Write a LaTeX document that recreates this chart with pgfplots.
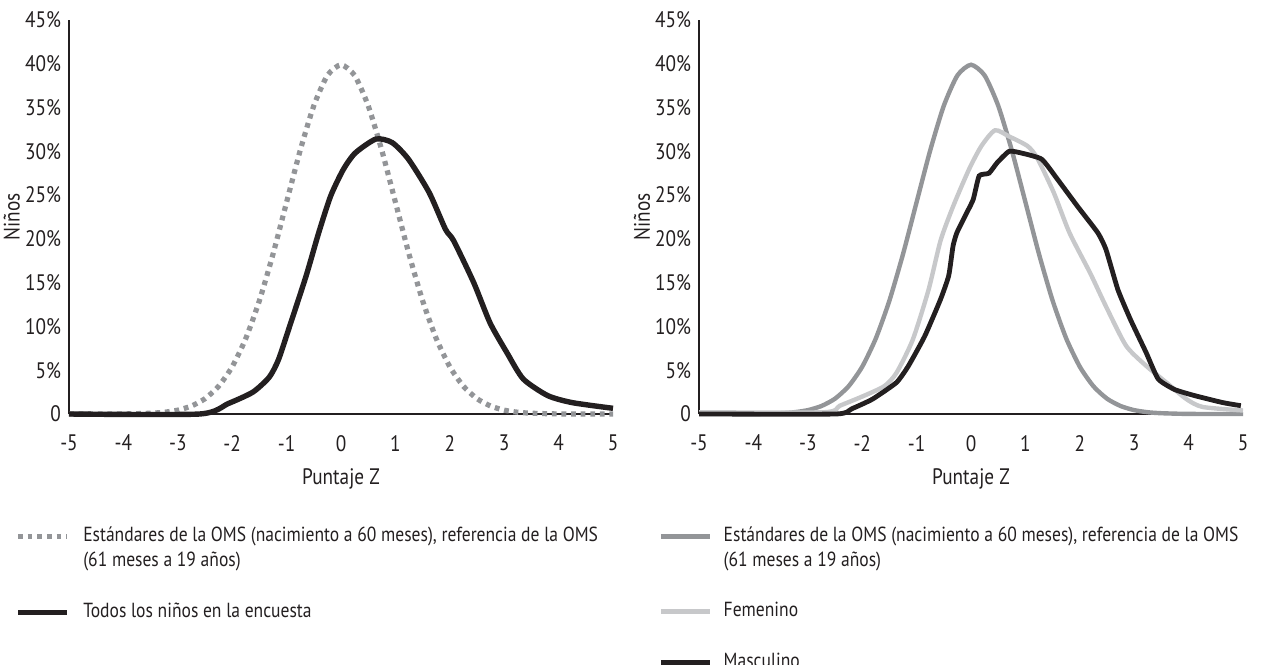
\documentclass[border=0pt]{standalone}
\usepackage{fontspec}
\setmainfont{PT Sans}[FakeStretch=0.86]
\usepackage{pgfplots}
\pgfplotsset{compat=1.18}
\definecolor{dk}{HTML}{231F20}
\definecolor{gm}{HTML}{939598}
\definecolor{gd}{HTML}{939598}
\definecolor{gl}{HTML}{C7C8CA}
\newcommand{\legrow}[1]{\raisebox{0pt}[3.5pt][0pt]{#1}}
\newcommand{\legsp}[1]{\rule{0pt}{#1}}

\pgfplotstableread{
x y
-5 0
-4 0.01
-3.5 0.09
-3.25 0.20
-3 0.44
-2.75 0.91
-2.5 1.75
-2.25 3.17
-2 5.40
-1.75 8.63
-1.5 12.95
-1.25 18.26
-1 24.20
-0.75 30.11
-0.5 35.21
-0.25 38.67
0 39.89
0.25 38.67
0.5 35.21
0.75 30.11
1 24.20
1.25 18.26
1.5 12.95
1.75 8.63
2 5.40
2.25 3.17
2.5 1.75
2.75 0.91
3 0.44
3.25 0.20
3.5 0.09
4 0.01
5 0
}\who

\pgfplotstableread{
x y
-5 0
-2.6 0
-2.07 1.2
-1.62 2.5
-1.32 4.2
-1.15 6.2
-0.94 10.1
-0.64 15.8
-0.41 20.7
-0.19 24.9
0.04 27.9
0.26 29.8
0.64 31.4
0.94 31.0
1.24 29.1
1.62 25.3
1.92 21.1
2.07 19.8
2.44 15.0
2.74 10.4
3.05 7.0
3.35 4.0
3.8 2.1
4.25 1.3
5.0 0.65
}\todos

\pgfplotstableread{
x y
-5 0.2
-2.7 0.2
-2.41 0.95
-1.96 2.1
-1.59 3.2
-1.37 4.7
-1.07 8.5
-0.78 14.2
-0.56 19.8
-0.33 23.7
-0.04 27.9
0.19 30.6
0.44 32.4
0.70 31.7
1.04 30.6
1.22 29.2
1.52 25.3
1.81 20.7
2.19 16.1
2.48 12.3
2.85 7.8
3.22 5.5
3.59 3.6
3.96 1.7
4.26 0.8
5.0 0.4
}\fem

\pgfplotstableread{
x y
-5 0
-2.48 0
-2.19 0.6
-1.81 1.7
-1.37 3.6
-1.15 5.5
-0.85 8.9
-0.56 13.1
-0.41 15.8
-0.33 19.2
-0.26 20.7
-0.11 22.6
0.04 24.5
0.15 27.2
0.33 27.5
0.48 28.7
0.70 30.0
0.93 29.8
1.30 29.1
1.59 26.8
1.96 23.7
2.33 20.7
2.48 18.8
2.70 14.2
2.93 10.8
3.22 7.0
3.44 4.0
3.74 2.8
4.11 2.1
4.63 1.3
4.96 0.95
}\masc

\pgfplotsset{
  panel/.style={
    scale only axis, width=272pt, height=197pt,
    xmin=-5, xmax=5, ymin=0, ymax=45,
    axis lines*=left,
    axis line style={-, line width=1.1pt, draw=dk},
    xtick={-5,-4,-3,-2,-1,0,1,2,3,4,5},
    xticklabels={-5,-4,-3,-2,-1,0,1,2,3,4,5},
    ytick={0,5,10,15,20,25,30,35,40,45},
    yticklabels={0,5\%,10\%,15\%,20\%,25\%,30\%,35\%,40\%,45\%},
    major tick length=0pt,
    tick label style={font=\fontsize{11.2}{13}\selectfont, text=dk},
    xticklabel style={yshift=-7pt},
    yticklabel style={xshift=-0.5pt},
    xlabel={Puntaje Z},
    ylabel={Niños},
    label style={font=\fontsize{11.2}{13}\selectfont, text=dk},
    xlabel style={at={(axis description cs:0.5,-0.165)}, anchor=center},
    ylabel style={at={(axis description cs:-0.105,0.5)}, rotate=0, anchor=center},
    clip=false,
    legend cell align=left,
    legend image code/.code={\draw[##1] (0pt,1.75pt) -- (24.5pt,1.75pt);},
  },
  leg/.style={
    legend style={at={(axis description cs:0,0)}, anchor=north west,
    yshift=-58.25pt, draw=none, fill=none,
    inner sep=0pt, row sep=3.5pt,
    font=\fontsize{10.2}{10}\selectfont, text=dk},
  },
}

\begin{document}
\begin{tikzpicture}
\path[use as bounding box] (0,0) rectangle (630.5pt,332pt);

\begin{axis}[panel, leg, at={(34.5pt,125pt)}, anchor=south west,
  legend style={xshift=-27pt, column sep=4.75pt},
]
\addplot[gd, line width=2.6pt, dash pattern=on 2.4pt off 2.4pt, smooth, tension=0.4] table {\who};
\addlegendentry{\legrow{Estándares de la OMS (nacimiento a 60 meses), referencia de la OMS}}
\addlegendimage{empty legend}
\addlegendentry{\legrow{(61 meses a 19 años)}}
\addlegendimage{empty legend}
\addlegendentry{\legsp{4pt}}
\addplot[dk, line width=2.7pt, smooth, tension=0.4] table {\todos};
\addlegendentry{\legrow{Todos los niños en la encuesta}}
\end{axis}

\begin{axis}[panel, leg, at={(349.5pt,125pt)}, anchor=south west,
  legend style={xshift=-20.5pt, column sep=3.75pt},
]
\addplot[gm, line width=2.2pt, smooth, tension=0.4] table {\who};
\addlegendentry{\legrow{Estándares de la OMS (nacimiento a 60 meses), referencia de la OMS}}
\addlegendimage{empty legend}
\addlegendentry{\legrow{(61 meses a 19 años)}}
\addlegendimage{empty legend}
\addlegendentry{\legsp{3.5pt}}
\addplot[gl, line width=2.2pt, smooth, tension=0.4] table {\fem};
\addlegendentry{\legrow{Femenino}}
\addlegendimage{empty legend}
\addlegendentry{\legsp{4pt}}
\addplot[dk, line width=2.4pt, smooth, tension=0.3] table {\masc};
\addlegendentry{\legrow{Masculino}}
\end{axis}
\end{tikzpicture}
\end{document}
